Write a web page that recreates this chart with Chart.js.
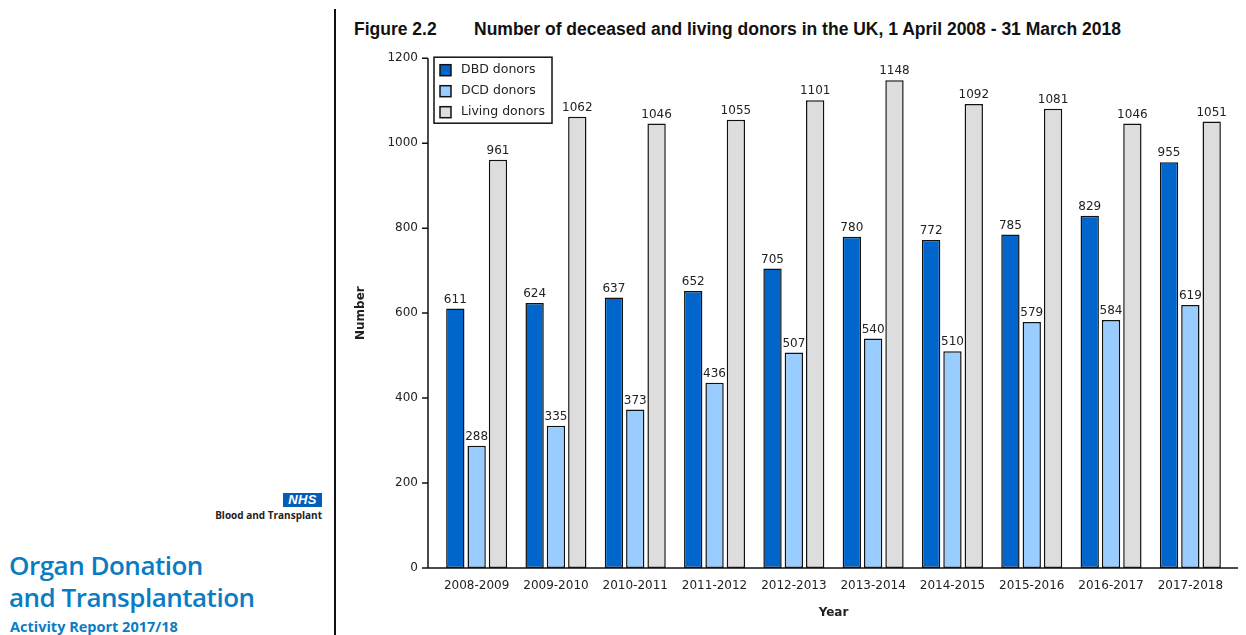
<!DOCTYPE html>
<html>
<head>
<meta charset="utf-8">
<title>Number of deceased and living donors in the UK</title>
<script src="https://cdn.jsdelivr.net/npm/chart.js@4/dist/chart.umd.min.js"></script>
<style>
  html, body { margin: 0; padding: 0; background: #fff; }
  body { width: 1246px; height: 635px; position: relative; overflow: hidden; font-family: "Liberation Sans", Arial, sans-serif; }
  .divider { position: absolute; left: 334px; top: 9px; width: 2px; height: 626px; background: #111; }
  .nhs { position: absolute; left: 283px; top: 493px; width: 39px; height: 14px; background: #005eb8;
         color: #fff; font: italic bold 13px/14px "Liberation Sans", Arial, sans-serif; text-align: center; letter-spacing: 0.3px; }
  .bt { position: absolute; right: 924px; top: 508px; font: bold 10px "Open Sans", "Liberation Sans", sans-serif; color: #222; white-space: nowrap; }
  .odt { position: absolute; left: 9px; top: 549px; font: 600 26px/32px "Open Sans", sans-serif; color: #0a7cc4; white-space: nowrap; letter-spacing: -0.5px; }
  .rep { position: absolute; left: 10px; top: 618px; font: bold 14.5px/17px "Open Sans", sans-serif; color: #0a7cc4; white-space: nowrap; }
  .fig { position: absolute; top: 18px; font: bold 17.5px/22px "Liberation Sans Narrow", "Arial Narrow", sans-serif; color: #111; white-space: nowrap; }
  #wrap { position: absolute; left: 340px; top: 40px; width: 906px; height: 595px; }
</style>
</head>
<body>
<div class="divider"></div>
<div class="nhs">NHS</div>
<div class="bt">Blood and Transplant</div>
<div class="odt">Organ Donation<br>and Transplantation</div>
<div class="rep">Activity Report 2017/18</div>
<div class="fig" style="left:354px">Figure 2.2</div>
<div class="fig" style="left:474px">Number of deceased and living donors in the UK, 1 April 2008 - 31 March 2018</div>
<div id="wrap"><canvas id="chart" width="906" height="595"></canvas></div>
<script>
// Financial years
const years = ['2008-2009', '2009-2010', '2010-2011', '2011-2012', '2012-2013',
               '2013-2014', '2014-2015', '2015-2016', '2016-2017', '2017-2018'];
// Donors after brain death
const dbdDonors = [611, 624, 637, 652, 705, 780, 772, 785, 829, 955];
// Donors after circulatory death
const dcdDonors = [288, 335, 373, 436, 507, 540, 510, 579, 584, 619];
// Living donors
const livingDonors = [961, 1062, 1046, 1055, 1101, 1148, 1092, 1081, 1046, 1051];
// Value axis
const yMin = 0, yMax = 1200, yStep = 200;

const seriesNames = ['DBD donors', 'DCD donors', 'Living donors'];
const seriesColors = ['#0066cc', '#99ccff', '#dddddd'];
const TEXT = '#222';
const FONT = 'DejaVu Sans';

// Axis lines sit a little outside the bar area, with outward tick marks on the value axis
const axisLines = {
  id: 'axisLines',
  afterDatasetsDraw(chart) {
    const { ctx, chartArea, scales } = chart;
    const y = scales.y;
    const ax = chartArea.left - 9;
    ctx.save();
    ctx.strokeStyle = '#111';
    ctx.lineWidth = 1.5;
    ctx.beginPath();
    ctx.moveTo(ax, y.getPixelForValue(yMax));
    ctx.lineTo(ax, y.getPixelForValue(yMin));
    ctx.moveTo(ax, y.getPixelForValue(yMin));
    ctx.lineTo(chartArea.right + 8, y.getPixelForValue(yMin));
    y.ticks.forEach(t => {
      const py = y.getPixelForValue(t.value);
      ctx.moveTo(ax - 6, py);
      ctx.lineTo(ax, py);
    });
    ctx.stroke();
    ctx.restore();
  }
};

// Value printed above each bar
const barValues = {
  id: 'barValues',
  afterDatasetsDraw(chart) {
    const { ctx } = chart;
    ctx.save();
    ctx.font = '12px "' + FONT + '"';
    ctx.fillStyle = TEXT;
    ctx.textAlign = 'center';
    ctx.textBaseline = 'bottom';
    chart.data.datasets.forEach((ds, i) => {
      chart.getDatasetMeta(i).data.forEach((bar, j) => {
        ctx.fillText(String(ds.data[j]), bar.x, bar.y - 3);
      });
    });
    ctx.restore();
  }
};

// Boxed legend in the top-left corner of the plot
const boxLegend = {
  id: 'boxLegend',
  afterDraw(chart) {
    const { ctx, chartArea } = chart;
    const x0 = chartArea.left - 3, y0 = chartArea.top - 1;
    const w = 118, h = 66, rowH = 21;
    ctx.save();
    ctx.fillStyle = '#fff';
    ctx.fillRect(x0, y0, w, h);
    ctx.strokeStyle = '#111';
    ctx.lineWidth = 1.5;
    ctx.strokeRect(x0, y0, w, h);
    ctx.font = '12.5px "' + FONT + '"';
    ctx.textBaseline = 'middle';
    ctx.textAlign = 'left';
    chart.data.datasets.forEach((ds, i) => {
      const cy = y0 + 13 + i * rowH;
      ctx.fillStyle = ds.backgroundColor;
      ctx.fillRect(x0 + 6, cy - 5.5, 11, 11);
      ctx.strokeRect(x0 + 6, cy - 5.5, 11, 11);
      ctx.fillStyle = TEXT;
      ctx.fillText(ds.label, x0 + 27, cy);
    });
    ctx.restore();
  }
};

const seriesData = [dbdDonors, dcdDonors, livingDonors];

new Chart(document.getElementById('chart'), {
  type: 'bar',
  data: {
    labels: years,
    datasets: seriesData.map((d, i) => ({
      label: seriesNames[i],
      data: d,
      backgroundColor: seriesColors[i],
      borderColor: '#111',
      borderWidth: 1.5,
      borderSkipped: false,
      categoryPercentage: 0.807,
      barPercentage: 0.86
    }))
  },
  options: {
    responsive: false,
    animation: false,
    devicePixelRatio: 1,
    layout: { padding: { top: 9, right: 16, left: 0, bottom: 0 } },
    plugins: { legend: { display: false }, tooltip: { enabled: false } },
    scales: {
      x: {
        type: 'category',
        grid: { display: false },
        border: { display: false },
        ticks: { color: TEXT, font: { family: FONT, size: 12 }, padding: 3, maxRotation: 0, autoSkip: false },
        title: { display: true, text: 'Year', color: TEXT, font: { family: FONT, size: 12, weight: 'bold' }, padding: { top: 0, bottom: 15 } },
        afterFit(scale) { scale.height = 67; }
      },
      y: {
        min: yMin, max: yMax,
        grid: { display: false },
        border: { display: false },
        ticks: { stepSize: yStep, color: TEXT, font: { family: FONT, size: 12 }, padding: 11,
                 callback: v => String(v) },
        title: { display: true, text: 'Number', color: TEXT, font: { family: FONT, size: 12, weight: 'bold' }, padding: { top: 14, bottom: 0 } },
        afterFit(scale) { scale.width = 97; }
      }
    }
  },
  plugins: [axisLines, barValues, boxLegend]
});
</script>
</body>
</html>
